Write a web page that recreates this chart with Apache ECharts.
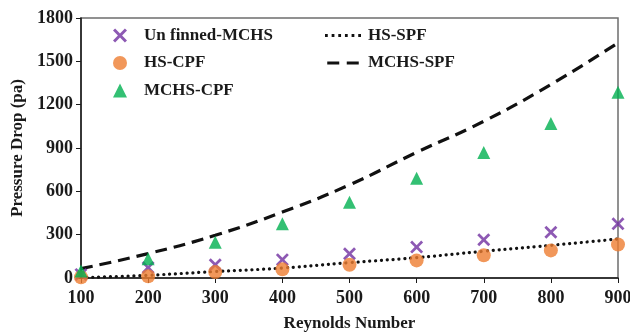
<!DOCTYPE html>
<html>
<head>
<meta charset="utf-8">
<script src="https://cdn.jsdelivr.net/npm/echarts@6/dist/echarts.min.js"></script>
<style>
  html, body { margin: 0; padding: 0; background: #fff; }
  #chart { width: 630px; height: 333px; }
</style>
</head>
<body>
<div id="chart"></div>
<script>
// Reynolds numbers on the x axis
const reynolds = [100, 200, 300, 400, 500, 600, 700, 800, 900];

// Measured pressure drop (pa)
const unfinnedMCHS = [25, 72, 92, 127, 168, 214, 265, 317, 375];
const hsCPF        = [5, 12, 41, 60, 92, 122, 157, 191, 232];
const mchsCPF      = [48, 134, 248, 375, 524, 690, 869, 1069, 1286];

// Fitted curves (pa)
const hsSPF   = [3, 19, 45, 69, 106, 141, 185, 226, 270];
const mchsSPF = [65, 169, 296, 457, 645, 870, 1085, 1340, 1628];

const yTicks = { min: 0, max: 1800, interval: 300 };

const pair = arr => reynolds.map((r, i) => [r, arr[i]]);

const crossPath = 'path://M0,1.5 L1.5,0 L5,3.5 L8.5,0 L10,1.5 L6.5,5 L10,8.5 L8.5,10 L5,6.5 L1.5,10 L0,8.5 L3.5,5 Z';
// legend keys for the two fitted curves
const dottedKey = 'path://M0,0h1v1h-1Z M2.4,0h1v1h-1Z M4.8,0h1v1h-1Z M7.2,0h1v1h-1Z M9.6,0h1v1h-1Z M12,0h1v1h-1Z';
const dashedKey = 'path://M0,0h4v1h-4Z M6.5,0h4v1h-4Z';
const font = 'Liberation Serif';
const ink = '#1a1a1a';

const chart = echarts.init(document.getElementById('chart'), null, { renderer: 'canvas' });
chart.setOption({
  animation: false,
  backgroundColor: '#fff',
  grid: {
    left: 81, right: 12, top: 18, bottom: 55,
    outerBoundsMode: 'none', containLabel: false,
    show: true, borderColor: '#6e6e6e', borderWidth: 1.5
  },
  xAxis: {
    type: 'value', min: 100, max: 900, interval: 100,
    name: 'Reynolds Number', nameLocation: 'middle', nameGap: 37,
    nameTextStyle: { fontFamily: font, fontWeight: 'bold', fontSize: 17, color: ink },
    axisLine: { lineStyle: { color: ink, width: 1.5 } },
    axisTick: { show: true, length: 5, lineStyle: { color: ink } },
    axisLabel: { fontFamily: font, fontWeight: 'bold', fontSize: 18, color: ink, margin: 11 },
    splitLine: { show: false }
  },
  yAxis: {
    type: 'value', min: yTicks.min, max: yTicks.max, interval: yTicks.interval,
    name: 'Pressure Drop (pa)', nameLocation: 'middle', nameGap: 55, nameRotate: 90,
    nameTextStyle: { fontFamily: font, fontWeight: 'bold', fontSize: 17, color: ink },
    axisLine: { show: true, lineStyle: { color: ink, width: 1.5 } },
    axisTick: { show: true, length: 5, lineStyle: { color: ink } },
    axisLabel: {
      fontFamily: font, fontWeight: 'bold', fontSize: 18, color: ink, margin: 8,
      formatter: v => String(v)
    },
    splitLine: { show: false }
  },
  legend: [
    {
      orient: 'vertical', left: 108, top: 22, itemGap: 10.5,
      itemWidth: 14, itemHeight: 14,
      textStyle: { fontFamily: font, fontWeight: 'bold', fontSize: 17, color: ink, padding: [0, 0, 0, 12] },
      data: ['Un finned-MCHS', 'HS-CPF', 'MCHS-CPF']
    },
    {
      orient: 'vertical', left: 320, top: 22, itemGap: 10.5,
      itemWidth: 36, itemHeight: 3,
      textStyle: { fontFamily: font, fontWeight: 'bold', fontSize: 17, color: ink, padding: [0, 0, 0, 2] },
      data: [
        { name: 'HS-SPF', icon: dottedKey, itemStyle: { color: '#111' } },
        { name: 'MCHS-SPF', icon: dashedKey, itemStyle: { color: '#111' } }
      ]
    }
  ],
  series: [
    {
      name: 'HS-SPF', type: 'line', data: pair(hsSPF), smooth: true,
      symbol: 'none', z: 2,
      lineStyle: { color: '#111', width: 3.2, type: [0.1, 5.8], cap: 'round' },
      itemStyle: { color: '#111' }
    },
    {
      name: 'MCHS-SPF', type: 'line', data: pair(mchsSPF), smooth: true,
      symbol: 'none', z: 2,
      lineStyle: { color: '#111', width: 3.2, type: [12, 7] },
      itemStyle: { color: '#111' }
    },
    {
      name: 'Un finned-MCHS', type: 'scatter', data: pair(unfinnedMCHS),
      symbol: crossPath, symbolSize: 13, z: 3,
      itemStyle: { color: '#7030A0' }
    },
    {
      name: 'HS-CPF', type: 'scatter', data: pair(hsCPF),
      symbol: 'circle', symbolSize: 14, z: 4,
      itemStyle: { color: '#ED7D31' }
    },
    {
      name: 'MCHS-CPF', type: 'scatter', data: pair(mchsCPF),
      symbol: 'triangle', symbolSize: 13, z: 4,
      itemStyle: { color: '#00B050' }
    }
  ]
});
</script>
</body>
</html>
